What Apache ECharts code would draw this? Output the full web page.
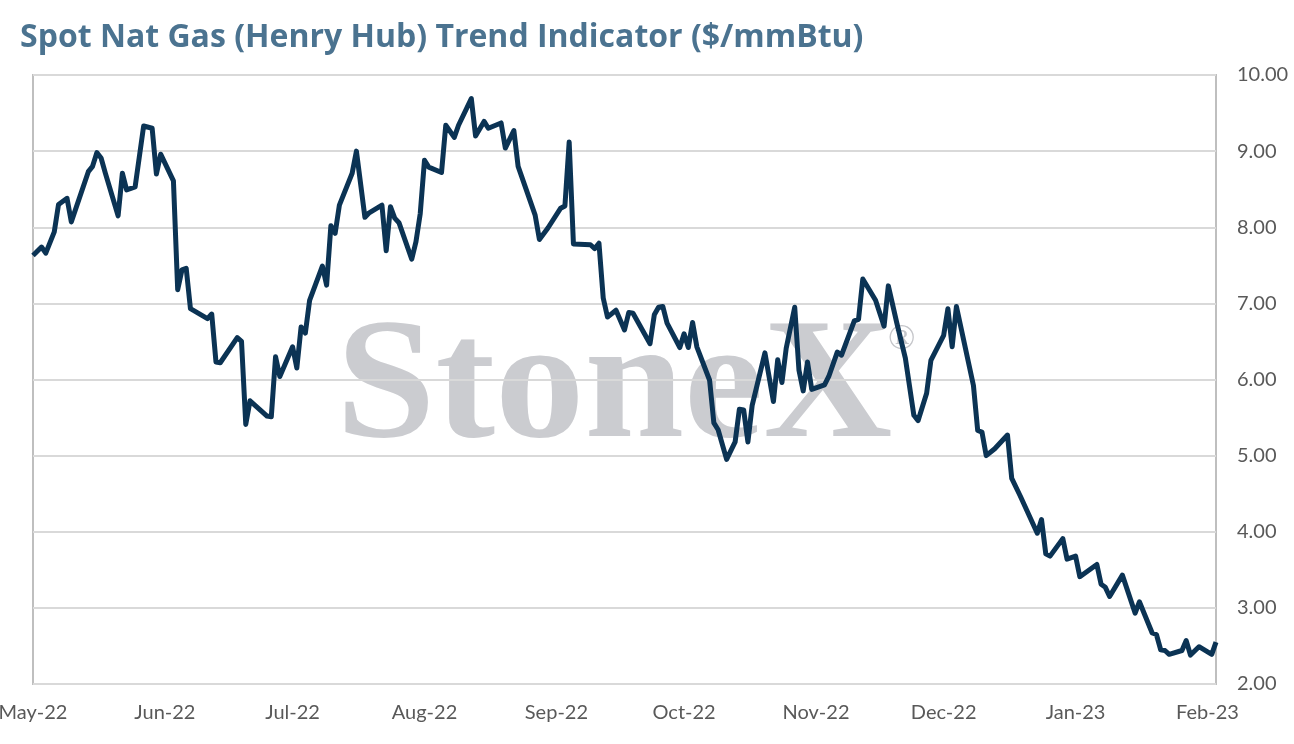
<!DOCTYPE html>
<html>
<head>
<meta charset="utf-8">
<title>Spot Nat Gas Trend Indicator</title>
<script src="https://cdn.jsdelivr.net/npm/echarts@6/dist/echarts.min.js"></script>
<style>
    html, body { margin: 0; padding: 0; background: #ffffff; }
    #chart { width: 1294px; height: 744px; }
</style>
</head>
<body>
<div id="chart"></div>
<script>
// Henry Hub spot
var dates = [
    '2022-05-01', '2022-05-03', '2022-05-04', '2022-05-06', '2022-05-07', '2022-05-09', '2022-05-10', '2022-05-14',
    '2022-05-15', '2022-05-16', '2022-05-17', '2022-05-18', '2022-05-21', '2022-05-22', '2022-05-23', '2022-05-25',
    '2022-05-27', '2022-05-29', '2022-05-30', '2022-05-31', '2022-06-03', '2022-06-04', '2022-06-05', '2022-06-06',
    '2022-06-07', '2022-06-11', '2022-06-12', '2022-06-13', '2022-06-14', '2022-06-18', '2022-06-19', '2022-06-20',
    '2022-06-21', '2022-06-25', '2022-06-26', '2022-06-27', '2022-06-28', '2022-07-01', '2022-07-02', '2022-07-03',
    '2022-07-04', '2022-07-05', '2022-07-08', '2022-07-09', '2022-07-10', '2022-07-11', '2022-07-12', '2022-07-15',
    '2022-07-16', '2022-07-18', '2022-07-19', '2022-07-22', '2022-07-23', '2022-07-24', '2022-07-25', '2022-07-26',
    '2022-07-29', '2022-07-30', '2022-07-31', '2022-08-01', '2022-08-02', '2022-08-05', '2022-08-06', '2022-08-08',
    '2022-08-09', '2022-08-12', '2022-08-13', '2022-08-15', '2022-08-16', '2022-08-19', '2022-08-20', '2022-08-22',
    '2022-08-23', '2022-08-27', '2022-08-28', '2022-08-30', '2022-09-02', '2022-09-03', '2022-09-04', '2022-09-05',
    '2022-09-09', '2022-09-10', '2022-09-11', '2022-09-12', '2022-09-13', '2022-09-15', '2022-09-17', '2022-09-18',
    '2022-09-19', '2022-09-23', '2022-09-24', '2022-09-25', '2022-09-26', '2022-09-27', '2022-09-30', '2022-10-01',
    '2022-10-02', '2022-10-03', '2022-10-04', '2022-10-07', '2022-10-08', '2022-10-09', '2022-10-11', '2022-10-13',
    '2022-10-14', '2022-10-15', '2022-10-16', '2022-10-17', '2022-10-20', '2022-10-22', '2022-10-23', '2022-10-24',
    '2022-10-25', '2022-10-27', '2022-10-28', '2022-10-29', '2022-10-30', '2022-10-31', '2022-11-03', '2022-11-04',
    '2022-11-06', '2022-11-07', '2022-11-10', '2022-11-11', '2022-11-12', '2022-11-15', '2022-11-17', '2022-11-18',
    '2022-11-20', '2022-11-22', '2022-11-24', '2022-11-25', '2022-11-27', '2022-11-28', '2022-12-01', '2022-12-02',
    '2022-12-03', '2022-12-04', '2022-12-08', '2022-12-09', '2022-12-10', '2022-12-11', '2022-12-13', '2022-12-16',
    '2022-12-17', '2022-12-19', '2022-12-23', '2022-12-24', '2022-12-25', '2022-12-26', '2022-12-29', '2022-12-30',
    '2023-01-01', '2023-01-02', '2023-01-06', '2023-01-07', '2023-01-08', '2023-01-09', '2023-01-12', '2023-01-15',
    '2023-01-16', '2023-01-19', '2023-01-20', '2023-01-21', '2023-01-22', '2023-01-23', '2023-01-26', '2023-01-27',
    '2023-01-28', '2023-01-30', '2023-02-02', '2023-02-03'
];
var prices = [
    7.63, 7.74, 7.66, 7.94, 8.30, 8.38, 8.07, 8.73,
    8.80, 8.98, 8.91, 8.71, 8.15, 8.71, 8.49, 8.53,
    9.33, 9.30, 8.70, 8.96, 8.61, 7.18, 7.44, 7.46,
    6.93, 6.80, 6.86, 6.23, 6.22, 6.55, 6.50, 5.41,
    5.72, 5.52, 5.51, 6.30, 6.04, 6.43, 6.15, 6.69,
    6.61, 7.04, 7.49, 7.24, 8.02, 7.92, 8.29, 8.71,
    9.00, 8.13, 8.19, 8.29, 7.69, 8.27, 8.12, 8.06,
    7.58, 7.81, 8.18, 8.88, 8.79, 8.72, 9.34, 9.18,
    9.34, 9.69, 9.20, 9.39, 9.30, 9.37, 9.04, 9.27,
    8.80, 8.16, 7.84, 7.99, 8.25, 8.28, 9.12, 7.78,
    7.77, 7.72, 7.79, 7.07, 6.82, 6.91, 6.65, 6.88,
    6.87, 6.47, 6.85, 6.95, 6.96, 6.74, 6.42, 6.60,
    6.42, 6.75, 6.43, 5.99, 5.43, 5.34, 4.95, 5.18,
    5.61, 5.60, 5.18, 5.66, 6.35, 5.71, 6.26, 5.96,
    6.41, 6.95, 6.12, 5.85, 6.23, 5.87, 5.93, 6.04,
    6.36, 6.32, 6.77, 6.79, 7.32, 7.04, 6.70, 7.23,
    6.74, 6.28, 5.53, 5.46, 5.82, 6.25, 6.58, 6.93,
    6.43, 6.96, 5.92, 5.33, 5.31, 5.00, 5.09, 5.27,
    4.70, 4.47, 3.98, 4.16, 3.71, 3.68, 3.91, 3.64,
    3.68, 3.41, 3.57, 3.31, 3.27, 3.15, 3.43, 2.93,
    3.08, 2.67, 2.65, 2.45, 2.44, 2.39, 2.44, 2.57,
    2.38, 2.49, 2.39, 2.55
];
var monthNames = ['Jan', 'Feb', 'Mar', 'Apr', 'May', 'Jun', 'Jul', 'Aug', 'Sep', 'Oct', 'Nov', 'Dec'];
var yTicks = [2, 10, 1]; // min, max, step

var chart;

function buildSeries() {
    var pts = [];
    for (var i = 0; i < dates.length; i++) {
        pts.push([dates[i], prices[i]]);
    }
    return pts;
}

function monthLabel(val) {
    var d = new Date(val);
    var yy = String(d.getFullYear()).slice(2);
    return monthNames[d.getMonth()] + '-' + yy;
}

function init() {
    chart = echarts.init(document.getElementById('chart'));
    var day = 24 * 3600 * 1000;
    var option = {
        backgroundColor: '#ffffff',
        animation: false,
        title: {
            text: 'Spot Nat Gas (Henry Hub) Trend Indicator ($/mmBtu)',
            left: 15,
            top: 17,
            textStyle: {
                fontFamily: 'Open Sans',
                fontWeight: 'bold',
                fontSize: 32,
                color: '#4b7390'
            }
        },
        grid: {
            left: 33,
            right: 78,
            top: 75,
            bottom: 60,
            outerBoundsMode: 'none',
            containLabel: false,
            show: true,
            borderColor: '#bfbfbf',
            borderWidth: 2
        },
        xAxis: {
            type: 'time',
            min: '2022-05-01',
            max: '2023-02-03',
            minInterval: 28 * day,
            maxInterval: 31 * day,
            axisLine: { show: false },
            axisTick: { show: false },
            splitLine: { show: false },
            axisLabel: {
                formatter: monthLabel,
                fontFamily: 'Lato',
                fontSize: 20,
                color: '#595959',
                margin: 19,
                showMaxLabel: false
            }
        },
        yAxis: {
            type: 'value',
            position: 'right',
            min: yTicks[0],
            max: yTicks[1],
            interval: yTicks[2],
            axisLine: { show: false },
            axisTick: { show: false },
            splitLine: { lineStyle: { color: '#d9d9d9', width: 2 } },
            axisLabel: {
                formatter: function (v) { return v.toFixed(2); },
                fontFamily: 'Lato',
                fontSize: 20,
                color: '#595959',
                margin: 21
            }
        },
        graphic: [
            {
                type: 'text',
                left: 336,
                top: 306,
                scaleX: 1.04,
                z: 0,
                style: {
                    text: 'StoneX',
                    font: 'bold 172px "Liberation Serif"',
                    fill: '#cbccd0'
                }
            },
            {
                type: 'text',
                left: 888,
                top: 322,
                z: 0,
                style: {
                    text: '\u00AE',
                    font: '36px "Liberation Serif"',
                    fill: '#c4c5c9'
                }
            }
        ],
        series: [
            {
                type: 'line',
                data: buildSeries(),
                showSymbol: false,
                z: 5,
                lineStyle: { color: '#0b3354', width: 5, join: 'round' }
            }
        ]
    };
    chart.setOption(option);
}

init();
</script>
</body>
</html>
